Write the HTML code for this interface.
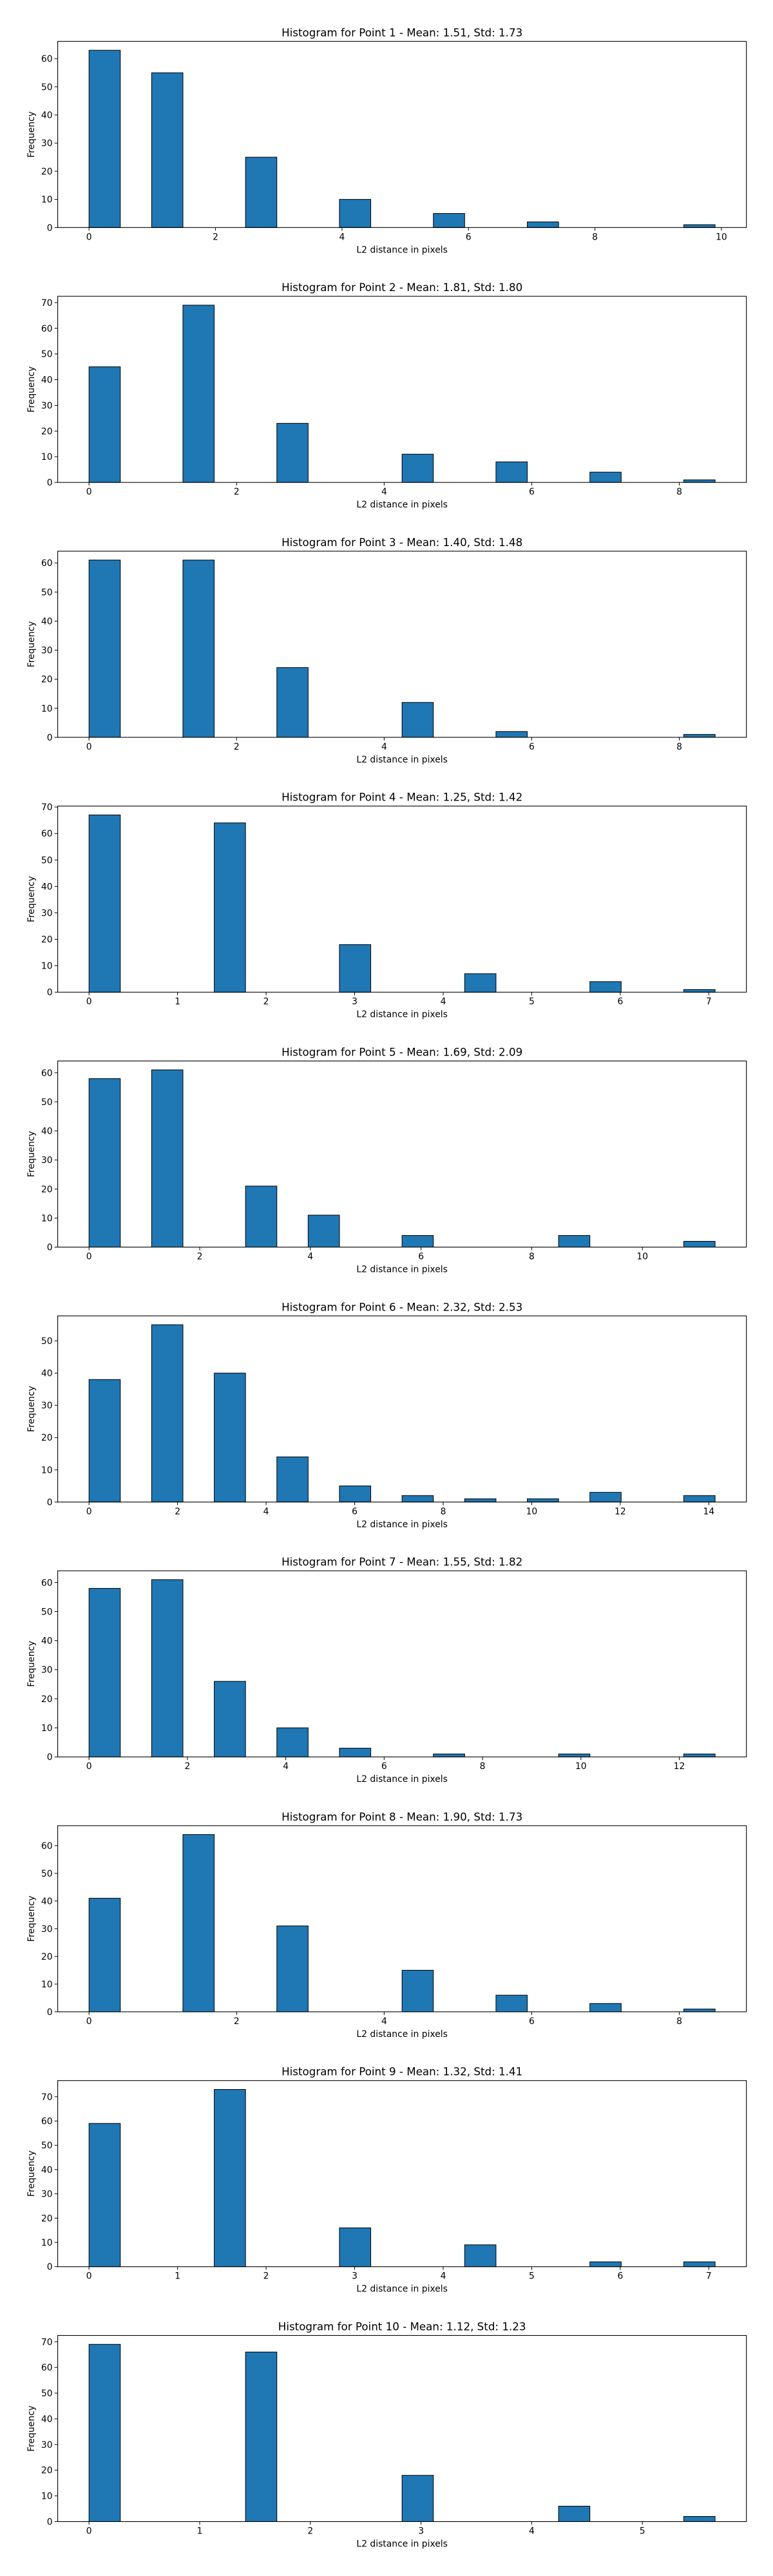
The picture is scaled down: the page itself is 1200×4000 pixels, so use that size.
<!DOCTYPE html>
<html><head><meta charset="utf-8">
<style>
html,body{margin:0;padding:0;background:#fff;}
svg{display:block;font-family:"DejaVu Sans","Liberation Sans",sans-serif;}
</style></head>
<body>
<svg id="fig" width="1200" height="4000" xmlns="http://www.w3.org/2000/svg"></svg>
<script>
const pointLabels = ["1","2","3","4","5","6","7","8","9","10"];
const means = ["1.51","1.81","1.40","1.25","1.69","2.32","1.55","1.90","1.32","1.12"];
const stds = ["1.73","1.80","1.48","1.42","2.09","2.53","1.82","1.73","1.41","1.23"];
const maxDist = [9.9, 8.485, 8.485, 7.071, 11.314, 14.142, 12.728, 8.485, 7.071, 5.657];
const xTickStep = [2, 2, 2, 1, 2, 2, 2, 2, 1, 1];
const counts = [
  [63,0,55,0,0,25,0,0,10,0,0,5,0,0,2,0,0,0,0,1],
  [45,0,0,69,0,0,23,0,0,0,11,0,0,8,0,0,4,0,0,1],
  [61,0,0,61,0,0,24,0,0,0,12,0,0,2,0,0,0,0,0,1],
  [67,0,0,0,64,0,0,0,18,0,0,0,7,0,0,0,4,0,0,1],
  [58,0,61,0,0,21,0,11,0,0,4,0,0,0,0,4,0,0,0,2],
  [38,0,55,0,40,0,14,0,5,0,2,0,1,0,1,0,3,0,0,2],
  [58,0,61,0,26,0,10,0,3,0,0,1,0,0,0,1,0,0,0,1],
  [41,0,0,64,0,0,31,0,0,0,15,0,0,6,0,0,3,0,0,1],
  [59,0,0,0,73,0,0,0,16,0,0,0,9,0,0,0,2,0,0,2],
  [69,0,0,0,0,66,0,0,0,0,18,0,0,0,0,6,0,0,0,2]
];

const NS = "http://www.w3.org/2000/svg";
const fig = document.getElementById('fig');
function mk(tag, attrs, parent){
  const e = document.createElementNS(NS, tag);
  for (const k in attrs) e.setAttribute(k, attrs[k]);
  parent.appendChild(e);
  return e;
}
const AX_L = 89.6, AX_R = 1158.7, AX_H = 289, TOP0 = 64.3, PITCH = 395.8;

for (let p = 0; p < counts.length; p++) {
  const g = mk('g', {}, fig);
  
  
  const top = TOP0 + p * PITCH, bottom = top + AX_H;
  const M = maxDist[p];
  const x0 = -0.05 * M, x1 = 1.05 * M;
  const xs = v => AX_L + (v - x0) / (x1 - x0) * (AX_R - AX_L);
  const cmax = Math.max(...counts[p]);
  const ymax = cmax * 1.05;
  const ys = v => bottom - v / ymax * AX_H;

  // title
  const t = mk('text', {x: (AX_L + AX_R) / 2, y: top - 8, 'text-anchor': 'middle', 'font-size': '16.7', fill: '#000'}, g);
  t.textContent = 'Histogram for Point ' + pointLabels[p] + ' - Mean: ' + means[p] + ', Std: ' + stds[p];
  
  

  // bars
  const n = counts[p].length, bw = M / n;
  for (let i = 0; i < n; i++) {
    const c = counts[p][i];
    const left = xs(i * bw), right = xs((i + 1) * bw);
    const r = mk('rect', {x: left, y: ys(c), width: right - left, height: bottom - ys(c), fill: '#1f77b4', stroke: '#000', 'stroke-width': 1}, g);
    
    
  }

  // axes frame
  const fr = mk('rect', {x: AX_L, y: top, width: AX_R - AX_L, height: AX_H, fill: 'none', stroke: '#000', 'stroke-width': 1.1}, g);
  
  

  // x ticks
  const st = xTickStep[p];
  for (let v = 0; v <= x1 + 1e-9; v += st) {
    const x = xs(v);
    mk('line', {x1: x, x2: x, y1: bottom, y2: bottom + 4.9, stroke: '#000', 'stroke-width': 1}, g);
    const tl = mk('text', {x: x, y: bottom + 19, 'text-anchor': 'middle', 'font-size': '13.9', fill: '#000'}, g);
    tl.textContent = String(v);
    
    
  }
  // y ticks
  for (let v = 0; v <= ymax; v += 10) {
    const y = ys(v);
    mk('line', {x1: AX_L - 4.9, x2: AX_L, y1: y, y2: y, stroke: '#000', 'stroke-width': 1}, g);
    const tl = mk('text', {x: AX_L - 8, y: y + 5, 'text-anchor': 'end', 'font-size': '13.9', fill: '#000'}, g);
    tl.textContent = String(v);
    
    
  }
  // axis labels
  const xl = mk('text', {x: (AX_L + AX_R) / 2, y: bottom + 39, 'text-anchor': 'middle', 'font-size': '13.9', fill: '#000'}, g);
  xl.textContent = 'L2 distance in pixels';
  
  
  const cy = (top + bottom) / 2;
  const yl = mk('text', {x: 53, y: cy, 'text-anchor': 'middle', 'font-size': '13.9', fill: '#000', transform: 'rotate(-90 53 ' + cy + ')'}, g);
  yl.textContent = 'Frequency';
  
  
}
</script>
</body></html>
